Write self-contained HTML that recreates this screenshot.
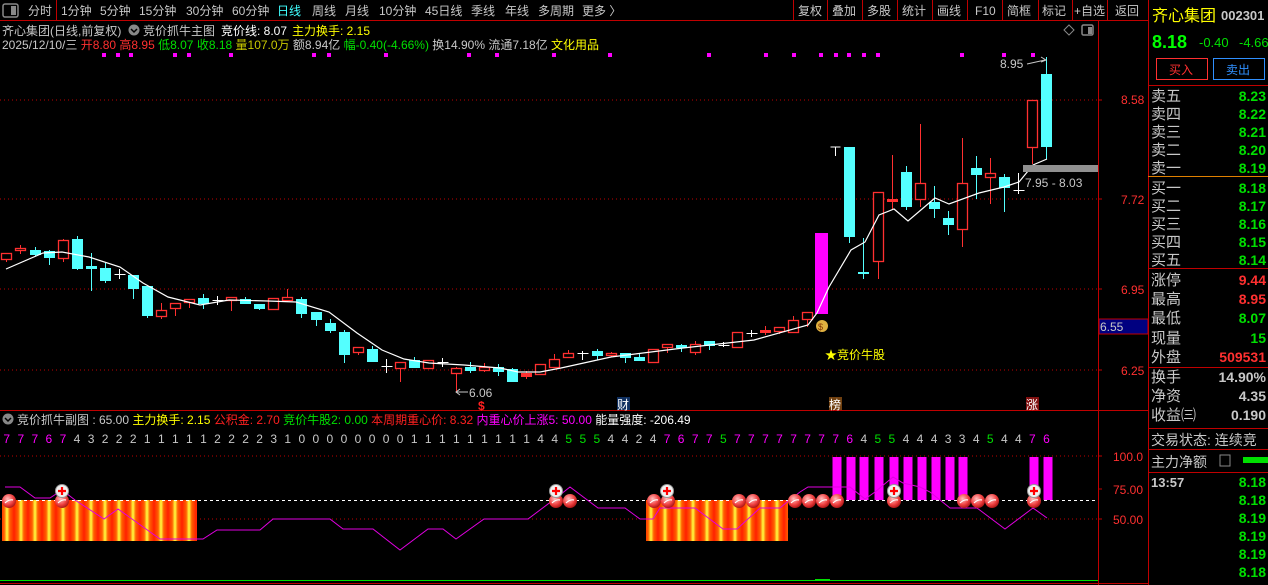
<!DOCTYPE html>
<html><head><meta charset="utf-8">
<style>
html,body{margin:0;padding:0;background:#000;}
body{width:1268px;height:585px;overflow:hidden;position:relative;font-family:"Liberation Sans","Noto Sans CJK SC",sans-serif;font-size:12px;}
svg{position:absolute;left:0;top:0;}
text{font-family:"Liberation Sans","Noto Sans CJK SC",sans-serif;}
</style></head><body>
<svg id="s" width="1268" height="585" xmlns="http://www.w3.org/2000/svg">
<defs>
<linearGradient id="sg" x1="0" x2="1" y1="0" y2="0">
<stop offset="0" stop-color="#ff2000"/><stop offset="0.3" stop-color="#ff6000"/><stop offset="0.5" stop-color="#ffff40"/><stop offset="0.7" stop-color="#ff6000"/><stop offset="1" stop-color="#ff2000"/>
</linearGradient>
<pattern id="stripe" patternUnits="userSpaceOnUse" width="14" height="50"><rect width="14" height="50" fill="url(#sg)"/></pattern>
<radialGradient id="ball" cx="0.4" cy="0.35" r="0.7"><stop offset="0" stop-color="#ffc0c0"/><stop offset="0.6" stop-color="#f04040"/><stop offset="1" stop-color="#a01010"/></radialGradient>
</defs>
<!-- frame lines -->
<line x1="0" y1="20.5" x2="1148" y2="20.5" stroke="#c00000"/>
<line x1="1098.5" y1="20" x2="1098.5" y2="585" stroke="#c00000"/>
<line x1="1148.5" y1="0" x2="1148.5" y2="585" stroke="#c00000"/>
<line x1="0" y1="410.5" x2="1148" y2="410.5" stroke="#c00000"/>
<line x1="0" y1="583.5" x2="1148" y2="583.5" stroke="#c00000"/>
<line x1="56.5" y1="0" x2="56.5" y2="20" stroke="#c00000"/>
<!-- top bar -->
<rect x="3" y="4" width="15" height="13" fill="none" stroke="#888" stroke-width="1.5" rx="2"/><rect x="11" y="6" width="5" height="9" fill="#888"/>
<g fill="#c8c8c8" font-size="12">
<text x="28" y="15">分时</text><text x="61" y="15">1分钟</text><text x="100" y="15">5分钟</text><text x="139" y="15">15分钟</text><text x="186" y="15">30分钟</text><text x="232" y="15">60分钟</text><text x="277" y="15" fill="#40ffff">日线</text><text x="312" y="15">周线</text><text x="345" y="15">月线</text><text x="379" y="15">10分钟</text><text x="425" y="15">45日线</text><text x="471" y="15">季线</text><text x="505" y="15">年线</text><text x="538" y="15">多周期</text><text x="582" y="15">更多 〉</text>
<text x="798" y="15">复权</text><text x="832" y="15">叠加</text><text x="867" y="15">多股</text><text x="902" y="15">统计</text><text x="937" y="15">画线</text><text x="975" y="15">F10</text><text x="1007" y="15">简框</text><text x="1042" y="15">标记</text><text x="1074" y="15">+自选</text><text x="1115" y="15">返回</text>
</g>
<g stroke="#c00000"><line x1="793.5" y1="0" x2="793.5" y2="20"/><line x1="827.5" y1="0" x2="827.5" y2="20"/><line x1="862.5" y1="0" x2="862.5" y2="20"/><line x1="897.5" y1="0" x2="897.5" y2="20"/><line x1="932.5" y1="0" x2="932.5" y2="20"/><line x1="967.5" y1="0" x2="967.5" y2="20"/><line x1="1002.5" y1="0" x2="1002.5" y2="20"/><line x1="1038.5" y1="0" x2="1038.5" y2="20"/><line x1="1072.5" y1="0" x2="1072.5" y2="20"/><line x1="1107.5" y1="0" x2="1107.5" y2="20"/></g>
<!-- header lines -->
<text x="2" y="35" fill="#c8c8c8">齐心集团(日线,前复权)</text>
<circle cx="134" cy="30" r="5.5" fill="#888"/><path d="M131 29 l3 3 l3 -3" stroke="#000" fill="none" stroke-width="1.5"/>
<text x="143" y="35" fill="#c8c8c8">竞价抓牛主图</text>
<text x="221" y="35" fill="#fff">竞价线: 8.07</text>
<text x="292" y="35" fill="#ffff00">主力换手: 2.15</text>
<text x="2" y="49" font-size="12"><tspan fill="#c8c8c8">2025/12/10/三 </tspan><tspan fill="#ff3030">开8.80 高8.95 </tspan><tspan fill="#00e000">低8.07 收8.18 </tspan><tspan fill="#c8c800">量107.0万 </tspan><tspan fill="#c8c8c8">额8.94亿 </tspan><tspan fill="#00e000">幅-0.40(-4.66%) </tspan><tspan fill="#c8c8c8">换14.90% 流通7.18亿 </tspan><tspan fill="#ffff00">文化用品</tspan></text>
<path d="M1064 30 l5 -5 l5 5 l-5 5z" fill="none" stroke="#888"/>
<rect x="1082" y="25" width="11" height="10" fill="none" stroke="#888" stroke-width="1.5" rx="1.5"/><rect x="1088" y="27" width="4" height="7" fill="#888"/>
<!-- grid -->
<g stroke="#c00000" stroke-dasharray="1,3"><line x1="0" y1="100" x2="1098" y2="100"/><line x1="0" y1="199" x2="1098" y2="199"/><line x1="0" y1="289" x2="1098" y2="289"/><line x1="0" y1="370" x2="1098" y2="370"/><line x1="0" y1="456" x2="1098" y2="456"/><line x1="0" y1="519" x2="1098" y2="519"/></g>
<!-- right axis -->
<g fill="#ff3030" font-size="12"><text x="1121" y="104">8.58</text><text x="1121" y="204">7.72</text><text x="1121" y="294">6.95</text><text x="1121" y="375">6.25</text>
<text x="1113" y="461">100.0</text><text x="1113" y="494">75.00</text><text x="1113" y="524">50.00</text></g>
<g stroke="#c00000"><line x1="1098" y1="100" x2="1102" y2="100"/><line x1="1098" y1="199" x2="1102" y2="199"/><line x1="1098" y1="289" x2="1102" y2="289"/><line x1="1098" y1="370" x2="1102" y2="370"/><line x1="1098" y1="456" x2="1102" y2="456"/><line x1="1098" y1="489" x2="1102" y2="489"/><line x1="1098" y1="519" x2="1102" y2="519"/></g>
<rect x="1099" y="319" width="49" height="15" fill="#000080" stroke="#c00000"/><text x="1100" y="331" fill="#c8c8c8">6.55</text>
<g id="magdots" fill="#ff00ff"></g>
<g id="candles"></g>
<polyline fill="none" stroke="#fff" stroke-width="1.2" points="6,269 43,253 62,252 89,257 120,267 143,283 168,297 200,305 229,300 268,301 296,302 329,312 357,333 382,350 404,359 429,363 464,365 500,368 518,372 540,372 561,368 611,357 683,348 754,340 808,325 817,313 829,287 851,250 865,242 879,215 894,209 908,221 935,198 949,204 979,193 1004,187 1019,182 1033,165 1047,159"/>
<!-- annotations -->
<text x="1000" y="68" fill="#c8c8c8">8.95</text><path d="M1027 64 l18 -4" stroke="#c8c8c8" fill="none"/><path d="M1041 57 l5 3 l-5 2" stroke="#c8c8c8" fill="none"/>
<rect x="1023" y="165" width="75" height="7" fill="#909090"/>
<text x="1025" y="187" fill="#c8c8c8">7.95 - 8.03</text>
<path d="M456 392 h12" stroke="#c8c8c8"/><path d="M460 389 l-4 3 l4 3" stroke="#c8c8c8" fill="none"/><text x="469" y="397" fill="#c8c8c8">6.06</text>
<text x="478" y="410" fill="#ff2020" font-weight="bold" font-size="12">$</text>
<rect x="617" y="397" width="13" height="13" fill="#103060"/><text x="617" y="409" fill="#fff">财</text>
<rect x="829" y="397" width="13" height="13" fill="#704010"/><text x="829" y="409" fill="#fff">榜</text>
<rect x="1026" y="397" width="13" height="13" fill="#801010"/><text x="1026" y="409" fill="#fff">涨</text>
<text x="825" y="359" fill="#ffff00">★竞价牛股</text>
<circle cx="822" cy="326" r="6" fill="#e0b040"/><text x="818" y="330" fill="#803000" font-size="9">$</text>
<!-- lower panel -->
<circle cx="8" cy="419" r="5.5" fill="#888"/><path d="M5 418 l3 3 l3 -3" stroke="#000" fill="none" stroke-width="1.5"/>
<text x="17" y="424" font-size="12"><tspan fill="#c8c8c8">竞价抓牛副图 : 65.00 </tspan><tspan fill="#ffff00">主力换手: 2.15 </tspan><tspan fill="#ff2020">公积金: 2.70 </tspan><tspan fill="#00e000">竞价牛股2: 0.00 </tspan><tspan fill="#ff2020">本周期重心价: 8.32 </tspan><tspan fill="#ff00ff">内重心价上涨5: 50.00 </tspan><tspan fill="#fff">能量强度: -206.49</tspan></text>
<g id="digits" font-size="12"></g>
<rect x="2" y="500" width="195" height="41" fill="url(#stripe)"/>
<rect x="646" y="500" width="142" height="41" fill="url(#stripe)"/>
<line x1="0" y1="500.5" x2="1098" y2="500.5" stroke="#fff" stroke-dasharray="3,3"/>
<g id="mbars" fill="#ff00ff"></g>
<polyline fill="none" stroke="#e000e0" stroke-width="1" points="5,487 20,487 35,498 50,498 62,490 75,500 104,519 118,509 160,539 203,539 217,530 260,530 273,519 330,519 343,529 373,529 400,550 428,529 443,529 456,539 484,519 528,519 556,498 570,487 598,508 625,508 640,519 653,519 660,508 695,508 723,529 737,529 760,508 780,508 787,502 800,492 808,487 850,487 865,499 875,492 893,477 903,483 920,487 930,492 950,508 977,508 1005,529 1033,508 1047,518"/>
<g id="balls"></g>
<line x1="0" y1="580.5" x2="1098" y2="580.5" stroke="#00e000"/>
<line x1="815" y1="579.5" x2="830" y2="579.5" stroke="#00e000"/>
<!-- right panel -->
<text x="1152" y="21" fill="#ffff00" font-size="16">齐心集团</text><text x="1221" y="20" fill="#c8c8c8" font-size="13" font-weight="bold">002301</text>
<text x="1152" y="48" fill="#00ff00" font-size="18" font-weight="bold">8.18</text><text x="1199" y="47" fill="#00e000" font-size="13">-0.40</text><text x="1239" y="47" fill="#00e000" font-size="13">-4.66</text>
<rect x="1156.5" y="58.5" width="51" height="21" fill="none" stroke="#ff3030"/><text x="1169" y="74" fill="#ff3030">买入</text>
<rect x="1213.5" y="58.5" width="51" height="21" fill="none" stroke="#3090ff"/><text x="1226" y="74" fill="#3090ff">卖出</text>
<g stroke="#c00000"><line x1="1148" y1="85.5" x2="1268" y2="85.5"/><line x1="1148" y1="268.5" x2="1268" y2="268.5"/><line x1="1148" y1="367.5" x2="1268" y2="367.5"/><line x1="1148" y1="428.5" x2="1268" y2="428.5"/><line x1="1148" y1="449.5" x2="1268" y2="449.5"/><line x1="1148" y1="472.5" x2="1268" y2="472.5"/></g>
<line x1="1148" y1="176.5" x2="1268" y2="176.5" stroke="#e08000"/>
<g id="rp" font-size="15"></g>
</svg>
<script>
var NS="http://www.w3.org/2000/svg";
function el(p,t,a,txt){var e=document.createElementNS(NS,t);for(var k in a)e.setAttribute(k,a[k]);if(txt!=null)e.textContent=txt;document.getElementById(p).appendChild(e);return e;}
var C=[
['r',253,259,253,262],['r',248,250,245,254],['c',250,254,247,256],['c',251,257,250,265],['r',240,258,239,262],['c',239,268,236,270],['c',266,268,253,291],['c',268,280,263,283],['w',274,274,269,279],['c',275,288,275,299],
['c',286,315,286,318],['r',310,316,303,319],['r',303,308,303,316],['r',299,302,299,308],['c',298,303,294,309],['w',300,300,296,305],['r',297,300,297,311],['c',299,303,297,304],['c',304,308,304,310],['r',298,309,298,309],
['r',297,300,289,302],['c',299,313,297,318],['c',312,319,312,326],['c',323,330,319,333],['c',332,354,330,363],['r',347,352,347,355],['c',349,361,346,362],['w',366,366,359,373],['r',362,368,362,382],['c',360,367,357,368],
['r',360,368,360,369],['w',362,362,358,367],['r',368,373,367,393],['c',367,370,362,373],['r',367,370,363,372],['c',367,371,364,376],['c',369,381,368,382],['rf',373,376,371,379],['r',364,374,364,375],['r',359,367,354,367],
['r',353,357,350,358],['w',353,353,351,360],['c',351,355,349,360],['r',353,355,352,357],['c',353,357,353,363],['c',357,360,354,360],['r',349,362,349,362],['r',344,347,344,353],['c',345,347,344,352],['r',344,352,341,355],
['c',341,345,341,350],['w',345,345,342,347],['r',332,347,332,347],['w',333,333,330,337],['rf',330,332,326,335],['r',327,331,327,334],['r',320,332,316,332],['r',312,319,312,327],['m',233,313,233,313],['T',147,147,147,156],
['c',147,236,147,243],['c',272,273,238,279],['r',192,261,192,279],['rf',199,201,155,209],['c',172,206,166,210],['r',183,199,124,207],['c',202,208,186,218],['c',218,224,211,235],['r',183,229,138,247],['c',168,174,156,199],
['r',173,177,158,204],['c',177,187,174,212],['w',190,190,173,194],['r',100,147,100,164],['c',74,146,57,159]];
C.forEach(function(d,i){var x=Math.round(6.4+14.05*i)+0.5,t=d[0];var col=t=='c'?'#54ffff':(t=='w'||t=='T')?'#ffffff':t=='m'?'#ff00ff':'#ff3030';
 if(t=='T'){el('candles','path',{d:'M'+(x-5)+' '+d[1]+'h10M'+x+' '+d[1]+'V'+d[4],stroke:col,fill:'none'});return;}
 el('candles','line',{x1:x,x2:x,y1:d[3],y2:d[4],stroke:col});
 var h=Math.max(d[2]-d[1],1);
 if(t=='w'){el('candles','line',{x1:x-5,x2:x+6,y1:d[1]+0.5,y2:d[1]+0.5,stroke:col});return;}
 if(t=='r'){el('candles','rect',{x:x-5,y:d[1]+0.5,width:10,height:h,fill:'#000',stroke:col,'stroke-width':1.3});}
 else {var w=t=='m'?13:11;el('candles','rect',{x:x-w/2,y:d[1],width:w,height:h+1,fill:col});}
});
[104,118,131,175,189,231,314,329,386,469,497,554,610,709,766,794,821,836,849,864,878,962,1004,1033].forEach(function(x){el('magdots','rect',{x:x-2,y:53,width:4,height:4});});
var D=[7,7,7,6,7,4,3,2,2,2,1,1,1,1,1,2,2,2,2,3,1,0,0,0,0,0,0,0,0,1,1,1,1,1,1,1,1,1,4,4,5,5,5,4,4,2,4,7,6,7,7,5,7,7,7,7,7,7,7,7,6,4,5,5,4,4,4,3,3,4,5,4,4,7,6];
D.forEach(function(v,i){var x=6.4+14.05*i;el('digits','text',{x:x-3,y:443,fill:v>=6?'#ff00ff':v==5?'#00e000':'#c8c8c8'},String(v));});
[837,851,864,879,894,908,922,936,950,963,1034,1048].forEach(function(x){el('mbars','rect',{x:x-4.5,y:457,width:9,height:43});});
[9,62,556,570,654,668,739,753,795,809,823,837,894,964,978,992,1034].forEach(function(x){el('balls','circle',{cx:x,cy:501,r:7,fill:'url(#ball)'});el('balls','path',{d:'M'+(x-4)+' 503 q4 -4 8 -3',stroke:'#fff','stroke-width':1.2,fill:'none'});});
[62,556,667,894,1034].forEach(function(x){el('balls','circle',{cx:x,cy:491,r:6.5,fill:'#f0f0f0',stroke:'#999'});el('balls','path',{d:'M'+(x-4)+' 491h8M'+x+' 487v8',stroke:'#ff0000','stroke-width':2.2});});
var R=[['卖五','8.23',101],['卖四','8.22',119],['卖三','8.21',137],['卖二','8.20',155],['卖一','8.19',173],['买一','8.18',193],['买二','8.17',211],['买三','8.16',229],['买四','8.15',247],['买五','8.14',265]];
R.forEach(function(r){el('rp','text',{x:1151,y:r[2],fill:'#c8c8c8'},r[0]);el('rp','text',{x:1266,y:r[2],fill:'#00e000','text-anchor':'end','font-weight':'bold','font-size':14},r[1]);});
var R2=[['涨停','9.44',285,'#ff3030'],['最高','8.95',304,'#ff3030'],['最低','8.07',323,'#00e000'],['现量','15',343,'#00e000'],['外盘','509531',362,'#ff3030'],['换手','14.90%',382,'#c8c8c8'],['净资','4.35',401,'#c8c8c8'],['收益㈢','0.190',420,'#c8c8c8']];
R2.forEach(function(r){el('rp','text',{x:1151,y:r[2],fill:'#c8c8c8'},r[0]);el('rp','text',{x:1266,y:r[2],fill:r[3],'text-anchor':'end','font-weight':'bold','font-size':14},r[1]);});
el('rp','text',{x:1151,y:445,fill:'#c8c8c8','font-size':14},'交易状态: 连续竞');
el('rp','text',{x:1151,y:467,fill:'#c8c8c8','font-size':14},'主力净额');
el('rp','rect',{x:1220,y:455,width:10,height:11,fill:'none',stroke:'#888'});
el('rp','rect',{x:1243,y:457,width:25,height:6,fill:'#00e000'});
el('rp','text',{x:1151,y:487,fill:'#c8c8c8','font-size':13,'font-weight':'bold'},'13:57');
['8.18','8.18','8.19','8.19','8.19','8.18'].forEach(function(v,i){el('rp','text',{x:1266,y:487+i*18,fill:'#00e000','text-anchor':'end','font-size':14,'font-weight':'bold'},v);});
</script>
</body></html>
